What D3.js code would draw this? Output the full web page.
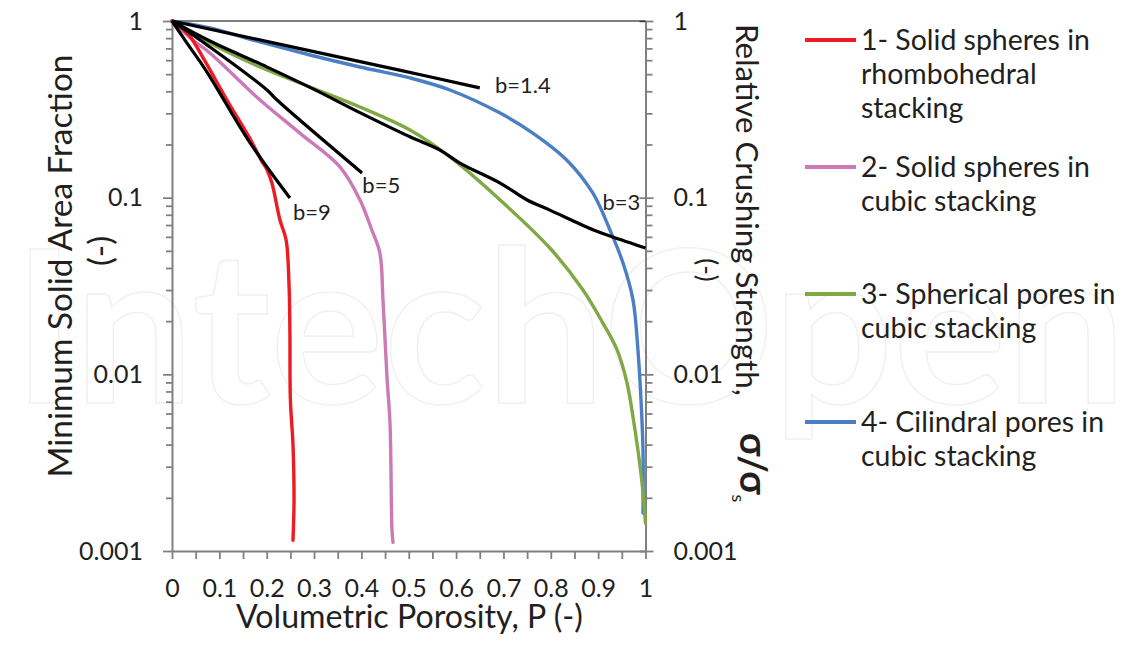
<!DOCTYPE html>
<html><head><meta charset="utf-8">
<script src="https://cdn.jsdelivr.net/npm/d3@7"></script>
<style>body{margin:0;background:#fff}</style>
</head><body>
<svg id="c" width="1143" height="647"></svg>
<script>
// ---------- data ----------
const seriesNames = ["1- Solid spheres in rhombohedral stacking","2- Solid spheres in cubic stacking","3- Spherical pores in cubic stacking","4- Cilindral pores in cubic stacking"];
const legendLines = [["1- Solid spheres in","rhombohedral","stacking"],["2- Solid spheres in","cubic stacking"],["3- Spherical pores in","cubic stacking"],["4- Cilindral pores in","cubic stacking"]];
const seriesColors = ["#ed1c24","#cc79b8","#80a844","#4a80c3"];

const s1P = [0, 0.036, 0.070, 0.116, 0.165, 0.190, 0.200, 0.211, 0.228, 0.241, 0.247, 0.249, 0.250, 0.2555, 0.2577, 0.2555];
const s1V = [1, 0.83, 0.59, 0.357, 0.215, 0.160, 0.145, 0.121, 0.0748, 0.0576, 0.0329, 0.0178, 0.0072, 0.0040, 0.00194, 0.00115];

const s2P = [0, 0.044, 0.080, 0.186, 0.270, 0.355, 0.397, 0.422, 0.439, 0.4456, 0.454, 0.4604, 0.4646, 0.4667];
const s2V = [1, 0.781, 0.659, 0.357, 0.232, 0.149, 0.097, 0.0656, 0.0486, 0.0264, 0.00966, 0.0053, 0.00131, 0.00112];

const s3P = [0, 0.080, 0.186, 0.2915, 0.397, 0.5026, 0.587, 0.693, 0.798, 0.868, 0.910, 0.940, 0.961, 0.9736, 0.984, 0.9926, 1.0];
const s3V = [1, 0.751, 0.549, 0.423, 0.326, 0.2415, 0.170, 0.097, 0.0519, 0.030, 0.0195, 0.01375, 0.00893, 0.00574, 0.00373, 0.00243, 0.00144];

const s4P = [0, 0.080, 0.186, 0.2915, 0.397, 0.5026, 0.587, 0.693, 0.762, 0.834, 0.889, 0.925, 0.9525, 0.9736, 0.984, 0.9905, 0.9947, 0.9947];
const s4V = [1, 0.913, 0.761, 0.642, 0.549, 0.476, 0.407, 0.301, 0.232, 0.163, 0.106, 0.0656, 0.0427, 0.0264, 0.01375, 0.00716, 0.00373, 0.00164];

const bNames = ["b=1.4","b=3","b=5","b=9"];
const b14P = [0, 0.49, 0.65];
const b14V = [1, 0.52, 0.418];
const b3P = [0, 0.08, 0.2, 0.3, 0.4, 0.5026, 0.566, 0.608, 0.693, 0.75, 0.798, 0.889, 0.931, 1.0];
const b3V = [1, 0.77, 0.55, 0.41, 0.30, 0.221, 0.186, 0.157, 0.121, 0.097, 0.085, 0.0658, 0.0599, 0.0519];
const b5P = [0, 0.080, 0.2006, 0.2218, 0.4013];
const b5V = [1, 0.713, 0.407, 0.357, 0.138];
const b9P = [0, 0.0317, 0.0739, 0.165, 0.249];
const b9V = [1, 0.75, 0.514, 0.204, 0.0996];

const xTickValues = [0,0.05,0.1,0.15,0.2,0.25,0.3,0.35,0.4,0.45,0.5,0.55,0.6,0.65,0.7,0.75,0.8,0.85,0.9,0.95,1];
const xTickLabels = ["0","","0.1","","0.2","","0.3","","0.4","","0.5","","0.6","","0.7","","0.8","","0.9","","1"];
const yMajorValues = [0.001, 0.01, 0.1, 1];
const yTickLabels = ["0.001","0.01","0.1","1"];

// ---------- drawing ----------
const FONT = "Lato, 'Open Sans', sans-serif";
const TXT = "#231f20";
const AX = "#808080";
const svg = d3.select("#c");

// faint publisher watermark (background)
svg.append("text").attr("x", 13).attr("y", 403)
  .attr("font-family", FONT).attr("font-weight", 700).attr("font-size", 212)
  .attr("fill", "none").attr("stroke", "#f0f0f0").attr("stroke-width", 1.4)
  .text("IntechOpen");

const x = d3.scaleLinear().domain([0,1]).range([172,645.5]);
const y = d3.scaleLog().domain([0.001,1]).range([551,21]);
const isMajor = d => Math.abs(Math.log10(d) - Math.round(Math.log10(d))) < 1e-6;
const yLabel = d => { const i = yMajorValues.findIndex(v => Math.abs(v-d)/v < 1e-6); return i >= 0 ? yTickLabels[i] : ""; };

function styleAxis(g){
  g.select(".domain").attr("stroke", AX).attr("stroke-width", 2);
  g.selectAll(".tick line").attr("stroke", AX).attr("stroke-width", 1.8);
  g.selectAll(".tick text").attr("font-family", FONT).attr("font-size", 25).attr("fill", TXT);
}

// left axis
const gl = svg.append("g").attr("transform", `translate(${x(0)},0)`)
  .call(d3.axisLeft(y).tickValues(y.ticks()).tickFormat(yLabel).tickSize(6).tickPadding(23).tickSizeOuter(0));
styleAxis(gl);
gl.selectAll(".tick").filter(d => isMajor(d)).select("line").attr("x2", -9);

// right axis
const gr = svg.append("g").attr("transform", `translate(${x(1)},0)`)
  .call(d3.axisRight(y).tickValues(y.ticks()).tickFormat(yLabel).tickSize(7).tickPadding(21).tickSizeOuter(0));
styleAxis(gr);
gr.selectAll(".tick").filter(d => isMajor(d)).select("line").attr("x1", -6).attr("x2", 8);

// bottom axis
const gb = svg.append("g").attr("transform", `translate(0,${y(0.001)})`)
  .call(d3.axisBottom(x).tickValues(xTickValues).tickFormat((d,i) => xTickLabels[i]).tickSize(8).tickPadding(20).tickSizeOuter(0));
styleAxis(gb);

// top frame line
svg.append("line").attr("x1", x(0)).attr("x2", x(1)).attr("y1", y(1)).attr("y2", y(1))
  .attr("stroke", "#000").attr("stroke-width", 1.2);

// curves
const line = d3.line().x(d => x(d[0])).y(d => y(d[1])).curve(d3.curveCatmullRom.alpha(0.5));
const zip = (P, V) => P.map((p, i) => [p, V[i]]);
const series = [zip(s1P,s1V), zip(s2P,s2V), zip(s3P,s3V), zip(s4P,s4V)];
const drawOrder = [3, 2, 1, 0];
drawOrder.forEach(i => {
  svg.append("path").datum(series[i]).attr("d", line)
    .attr("fill", "none").attr("stroke", seriesColors[i]).attr("stroke-width", 3.4)
    .attr("stroke-linejoin", "round").attr("stroke-linecap", "round");
});

const bLines = [zip(b14P,b14V), zip(b3P,b3V), zip(b5P,b5V), zip(b9P,b9V)];
bLines.forEach(d => {
  svg.append("path").datum(d).attr("d", line)
    .attr("fill", "none").attr("stroke", "#000").attr("stroke-width", 3.2)
    .attr("stroke-linejoin", "round");
});

// b labels (annotation anchors in data units)
const bLabelAt = [[0.682, 0.391], [0.909, 0.085], [0.402, 0.106], [0.2555, 0.0748]];
bNames.forEach((t, i) => {
  svg.append("text").attr("x", x(bLabelAt[i][0])).attr("y", y(bLabelAt[i][1]))
    .attr("font-family", FONT).attr("font-size", 22).attr("fill", TXT).text(t);
});

function fit(sel, target){
  const w = sel.node().getComputedTextLength();
  const fs = parseFloat(sel.attr("font-size"));
  return fs * target / w;
}

// axis titles
const xt = svg.append("text").attr("x", 236).attr("y", 628)
  .attr("font-family", FONT).attr("font-size", 30).attr("fill", TXT)
  .text("Volumetric Porosity, P (-)");
xt.attr("font-size", fit(xt, 347));

const ylt = svg.append("text").attr("transform", "translate(72,266) rotate(-90)")
  .attr("text-anchor", "middle").attr("font-family", FONT).attr("font-size", 30).attr("fill", TXT)
  .text("Minimum Solid Area Fraction");
const ylfs = fit(ylt, 423);
ylt.attr("font-size", ylfs);
svg.append("text").attr("transform", "translate(112,251) rotate(-90)")
  .attr("text-anchor", "middle").attr("font-family", FONT).attr("font-size", ylfs).attr("fill", TXT)
  .text("(-)");

const yrt = svg.append("text").attr("transform", "translate(736,24) rotate(90)")
  .attr("font-family", FONT).attr("font-size", 30).attr("fill", TXT)
  .text("Relative Crushing Strength,");
yrt.attr("font-size", fit(yrt, 372));
const sig = svg.append("text").attr("transform", "translate(740,433) rotate(90)")
  .attr("font-family", FONT).attr("font-size", 38).attr("font-weight", 700).attr("fill", TXT);
sig.append("tspan").text("σ/σ");
sig.append("tspan").attr("font-size", 18).attr("font-weight", 400).attr("dy", 8).text("s");
svg.append("text").attr("transform", "translate(698,270) rotate(90)")
  .attr("text-anchor", "middle").attr("font-family", FONT).attr("font-size", 26).attr("fill", TXT)
  .text("(-)");

// legend
const legY = [40, 167, 294, 422];
const probe = svg.append("text").attr("font-family", FONT).attr("font-size", 27).text(legendLines[0][0]);
const legFs = fit(probe, 229);
probe.remove();
legendLines.forEach((lines, i) => {
  const g = svg.append("g").attr("transform", `translate(0,${legY[i]})`);
  g.append("line").attr("x1", 805).attr("x2", 856).attr("y1", 0).attr("y2", 0)
    .attr("stroke", seriesColors[i]).attr("stroke-width", 4.2);
  const t = g.append("text").attr("font-family", FONT).attr("font-size", legFs).attr("fill", TXT);
  lines.forEach((s, j) => t.append("tspan").attr("x", 861).attr("y", 10 + j * 34).text(s));
});
</script>
</body></html>
